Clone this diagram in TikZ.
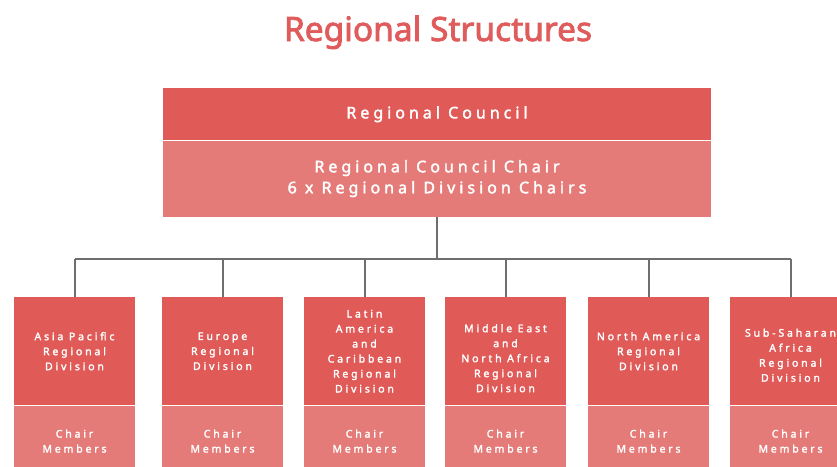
\documentclass[tikz,border=0pt]{standalone}
\usepackage{fontspec}
\setmainfont{Noto Sans}[AutoFakeBold=2.4]
\newfontfamily\boxfont[LetterSpace=25, AutoFakeBold=2.2]{Noto Sans}
\newfontfamily\divfont[LetterSpace=27, AutoFakeBold=2.2]{Noto Sans}
\definecolor{titlered}{HTML}{E05C5C}
\definecolor{divred}{HTML}{E05A58}
\definecolor{chairred}{HTML}{E57B78}
\definecolor{linegray}{HTML}{6E6E6E}
\tikzset{
    box/.style={rectangle, inner sep=0pt, text=white, align=center, anchor=north},
    topbox/.style={box, minimum width=548, font=\boxfont\bfseries\fontsize{16}{21}\selectfont},
    divbox/.style={box, fill=divred, minimum width=121, minimum height=108, font=\divfont\bfseries\fontsize{10.5}{15}\selectfont},
    chairbox/.style={divbox, fill=chairred, minimum height=71},
    conn/.style={draw=linegray, line width=2pt}
}
\begin{document}
\begin{tikzpicture}[x=1pt, y=-1pt]
    \path[use as bounding box, fill=white] (0,0) rectangle (837,466);
    \node[anchor=base, text=titlered, font=\bfseries\fontsize{33.5}{38}\selectfont] (title) at (438,41) {Regional Structures};
    % council block
    \node[topbox, fill=divred, minimum height=52] (council) at (437,88) {Regional Council};
    \node[topbox, fill=chairred, minimum height=76] (cchair) at (council.south) {Regional Council Chair\\6 x Regional Division Chairs};
    % divisions
    \foreach \i/\x/\dy/\name in {1/74.5/0/{Asia Pacific\\Regional\\Division},
                                 2/222.5/0/{Europe\\Regional\\Division},
                                 3/364.5/0/{Latin\\America\\and\\Caribbean\\Regional\\Division},
                                 4/505.5/7/{Middle East\\and\\North Africa\\Regional\\Division},
                                 5/648.5/0/{North America\\Regional\\Division},
                                 6/790.5/4/{Sub-Saharan\\Africa\\Regional\\Division}} {
        \node[divbox] (div\i) at (\x,297) {};
        \node[text=white, align=center, font=\divfont\bfseries\fontsize{10.5}{15}\selectfont] (divtext\i) at ([yshift=-\dy pt]div\i.center) {\name};
        \node[chairbox] (chair\i) at (div\i.south) {Chair\\Members};
    }
    % connectors
    \path (cchair.south) ++(0,42) coordinate (bus);
    \draw[conn] (cchair.south) -- (bus);
    \draw[conn] (div1.north |- bus) -- (div6.north |- bus);
    \foreach \i in {1,...,6} \draw[conn] (div\i.north |- bus) -- (div\i.north);
\end{tikzpicture}
\end{document}
